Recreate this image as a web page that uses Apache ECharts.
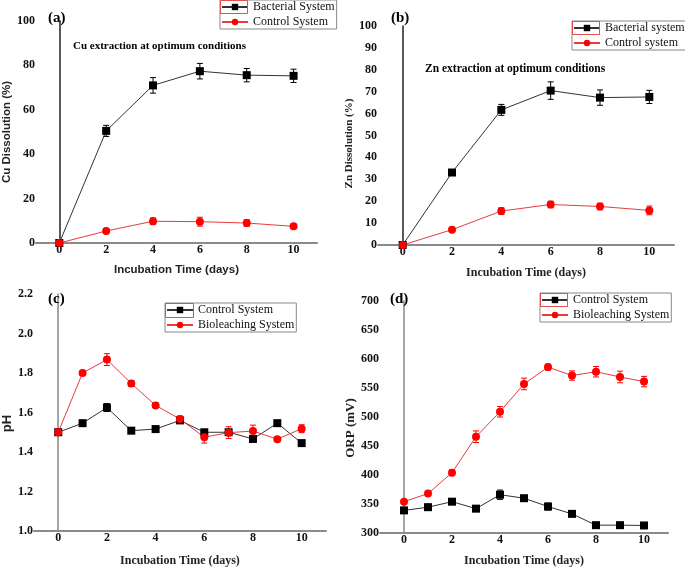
<!DOCTYPE html>
<html><head><meta charset="utf-8">
<script src="https://cdn.jsdelivr.net/npm/echarts@6/dist/echarts.min.js"></script>
<style>html,body{margin:0;padding:0;background:#fff}#c{width:685px;height:568px}</style>
</head><body><div id="c"></div>
<script>
// ---- data ----
const daysA = [0, 2, 4, 6, 8, 10];
const cuBacterial = [0, 50.5, 71.0, 77.4, 75.6, 75.3];
const cuBacterialErr = [0, 2.5, 3.5, 3.5, 3, 3];
const cuControl = [0, 5.4, 9.8, 9.6, 9.0, 7.5];
const cuControlErr = [0, 1, 1.5, 2, 1.5, 1];

const znBacterial = [0, 33.1, 61.7, 70.5, 67.3, 67.6];
const znBacterialErr = [0, 1, 2.5, 4, 3.5, 3];
const znControl = [0, 7.0, 15.5, 18.5, 17.6, 15.8];
const znControlErr = [0, 0.8, 1.5, 1.5, 1.5, 2];

const daysC = [0, 1, 2, 3, 4, 5, 6, 7, 8, 9, 10];
const phControl = [1.50, 1.546, 1.625, 1.508, 1.516, 1.56, 1.50, 1.50, 1.466, 1.546, 1.445];
const phControlErr = [0, 0.01, 0.02, 0.01, 0.01, 0.01, 0.01, 0.01, 0.01, 0.01, 0.01];
const phBio = [1.50, 1.80, 1.868, 1.747, 1.636, 1.567, 1.475, 1.498, 1.506, 1.465, 1.518];
const phBioErr = [0, 0.01, 0.03, 0.015, 0.01, 0.015, 0.03, 0.03, 0.03, 0.01, 0.02];

const orpControl = [339, 344.5, 354, 342, 366, 360, 345.6, 333, 313.5, 313.5, 313];
const orpControlErr = [4, 5, 4, 5, 8, 3, 6, 4, 2, 2, 2];
const orpBio = [354, 368, 404, 466, 509, 557, 586, 571.5, 578, 569, 561];
const orpBioErr = [3, 3, 5, 10, 9, 10, 5, 8, 9, 10, 9];

const xTickLabels = [0, 2, 4, 6, 8, 10];

// ---- styles ----
const BLACK = '#000';
const LINE_BLACK = '#333';
const RED = '#f00';
const LINE_RED = '#e63c3c';
const serif = 'Liberation Serif';
const sans = 'Liberation Sans';

function pairs(xs, ys) { return xs.map((x, i) => [x, ys[i]]); }

function lineSeries(name, idx, xs, ys, isBlack) {
  return {
    name: name, type: 'line', xAxisIndex: idx, yAxisIndex: idx,
    data: pairs(xs, ys),
    symbol: isBlack ? 'rect' : 'circle',
    symbolSize: 8,
    itemStyle: { color: isBlack ? BLACK : RED },
    lineStyle: { color: isBlack ? LINE_BLACK : LINE_RED, width: 1 },
    z: 3, animation: false
  };
}

function errSeries(idx, xs, ys, es, color) {
  const data = [];
  xs.forEach((x, i) => { if (es[i] > 0) data.push([x, ys[i] - es[i], ys[i] + es[i]]); });
  return {
    type: 'custom', xAxisIndex: idx, yAxisIndex: idx, data: data,
    encode: { x: 0, y: [1, 2] }, z: 2, silent: true, animation: false,
    renderItem: function (params, api) {
      const x = api.value(0);
      const lo = api.coord([x, api.value(1)]);
      const hi = api.coord([x, api.value(2)]);
      const w = 3;
      const st = { stroke: color, lineWidth: 1 };
      return { type: 'group', children: [
        { type: 'line', shape: { x1: lo[0], y1: lo[1], x2: hi[0], y2: hi[1] }, style: st },
        { type: 'line', shape: { x1: lo[0] - w, y1: lo[1], x2: lo[0] + w, y2: lo[1] }, style: st },
        { type: 'line', shape: { x1: hi[0] - w, y1: hi[1], x2: hi[0] + w, y2: hi[1] }, style: st }
      ]};
    }
  };
}

function xAxis(idx, nameFont, nameSize, nameGap) {
  return {
    type: 'value', gridIndex: idx, min: -1, max: 11, interval: 1,
    name: 'Incubation Time (days)', nameLocation: 'middle', nameGap: nameGap,
    nameTextStyle: { fontFamily: nameFont, fontWeight: 'bold', fontSize: nameSize, color: '#222' },
    axisLine: { lineStyle: { color: '#8a8a8a', width: 2 } },
    axisTick: { show: false }, splitLine: { show: false },
    axisLabel: {
      margin: 1, fontFamily: serif, fontWeight: 'bold', fontSize: 12, color: '#111',
      formatter: v => (xTickLabels.indexOf(v) >= 0 ? String(v) : '')
    }
  };
}

function yAxis(idx, name, min, max, interval, nameFont, nameSize, nameGap, lineColor, shiftDown, fmt) {
  return {
    type: 'value', gridIndex: idx, min: min, max: max, interval: interval,
    name: name, nameLocation: 'middle', nameGap: nameGap, nameRotate: 90,
    nameTextStyle: { fontFamily: nameFont, fontWeight: 'bold', fontSize: nameSize, color: '#222',
      padding: [0, shiftDown * 2, 0, 0] },
    axisLine: { show: true, lineStyle: { color: lineColor, width: 1.5 } },
    axisTick: { show: false }, splitLine: { show: false },
    axisLabel: { margin: 1, fontFamily: serif, fontWeight: 'bold', fontSize: 12, color: '#111',
      formatter: fmt || (v => String(v)) }
  };
}

function legend(left, top, names) {
  return {
    left: left, top: top, orient: 'vertical',
    data: names, itemWidth: 26, itemHeight: 8, itemGap: 3,
    padding: [1, 2, 1, 1], borderColor: '#888', borderWidth: 1,
    textStyle: { fontFamily: serif, fontSize: 12, color: '#111' },
    formatter: n => n.split('|')[1], selectedMode: false
  };
}

function redBox(x, y, w, h) {
  return { type: 'rect', shape: { x: x, y: y, width: w, height: h },
    style: { fill: 'none', stroke: '#e05050', lineWidth: 1 }, z: 100, silent: true };
}

const option = {
  backgroundColor: '#fff',
  animation: false,
  grid: [
    { left: 35, top: 21, width: 282, height: 222 },
    { left: 378, top: 26, width: 296, height: 219 },
    { left: 32, top: 294, width: 294, height: 243 },
    { left: 380, top: 301, width: 288, height: 236 }
  ],
  xAxis: [
    xAxis(0, sans, 11.5, 21),
    xAxis(1, serif, 12, 22),
    xAxis(2, serif, 12, 24),
    xAxis(3, serif, 12, 22)
  ],
  yAxis: [
    yAxis(0, 'Cu Dissolution (%)', 0, 100, 20, sans, 11.5, 21, '#222', 0),
    yAxis(1, 'Zn Dissolution (%)', 0, 100, 10, serif, 11, 21, '#222', 8),
    yAxis(2, 'pH', 1.0, 2.2, 0.2, sans, 13, 19, '#888', 11, v => v.toFixed(1)),
    yAxis(3, 'ORP (mV)', 300, 700, 50, serif, 13, 21, '#888', 11)
  ],
  title: [
    { text: '(a)', left: 43, top: 6, textStyle: { fontFamily: serif, fontWeight: 'bold', fontSize: 15, color: '#000' } },
    { text: 'Cu extraction at optimum conditions', left: 68, top: 36, textStyle: { fontFamily: serif, fontWeight: 'bold', fontSize: 11, color: '#000' } },
    { text: '(b)', left: 386, top: 6, textStyle: { fontFamily: serif, fontWeight: 'bold', fontSize: 15, color: '#000' } },
    { text: 'Zn extraction at optimum conditions', left: 420, top: 58, textStyle: { fontFamily: serif, fontWeight: 'bold', fontSize: 11.5, color: '#000' } },
    { text: '(c)', left: 43, top: 287, textStyle: { fontFamily: serif, fontWeight: 'bold', fontSize: 15, color: '#000' } },
    { text: '(d)', left: 385, top: 287, textStyle: { fontFamily: serif, fontWeight: 'bold', fontSize: 15, color: '#000' } }
  ],
  legend: [
    legend(220, 0, ['a|Bacterial System', 'a|Control System']),
    legend(572, 21, ['b|Bacterial system', 'b|Control system']),
    legend(165, 303, ['c|Control System', 'c|Bioleaching System']),
    legend(540, 293, ['d|Control System', 'd|Bioleaching System'])
  ],
  graphic: [
    redBox(220.5, 0.5, 27, 13),
    redBox(572.5, 21.5, 27, 13),
    redBox(165.5, 303.5, 28, 14),
    redBox(540.5, 293.5, 27, 13)
  ],
  series: [
    errSeries(0, daysA, cuBacterial, cuBacterialErr, BLACK),
    errSeries(0, daysA, cuControl, cuControlErr, RED),
    lineSeries('a|Bacterial System', 0, daysA, cuBacterial, true),
    lineSeries('a|Control System', 0, daysA, cuControl, false),

    errSeries(1, daysA, znBacterial, znBacterialErr, BLACK),
    errSeries(1, daysA, znControl, znControlErr, RED),
    lineSeries('b|Bacterial system', 1, daysA, znBacterial, true),
    lineSeries('b|Control system', 1, daysA, znControl, false),

    errSeries(2, daysC, phControl, phControlErr, BLACK),
    errSeries(2, daysC, phBio, phBioErr, RED),
    lineSeries('c|Control System', 2, daysC, phControl, true),
    lineSeries('c|Bioleaching System', 2, daysC, phBio, false),

    errSeries(3, daysC, orpControl, orpControlErr, BLACK),
    errSeries(3, daysC, orpBio, orpBioErr, RED),
    lineSeries('d|Control System', 3, daysC, orpControl, true),
    lineSeries('d|Bioleaching System', 3, daysC, orpBio, false)
  ]
};

const chart = echarts.init(document.getElementById('c'), null, { renderer: 'canvas' });
chart.setOption(option);
</script>
</body></html>
